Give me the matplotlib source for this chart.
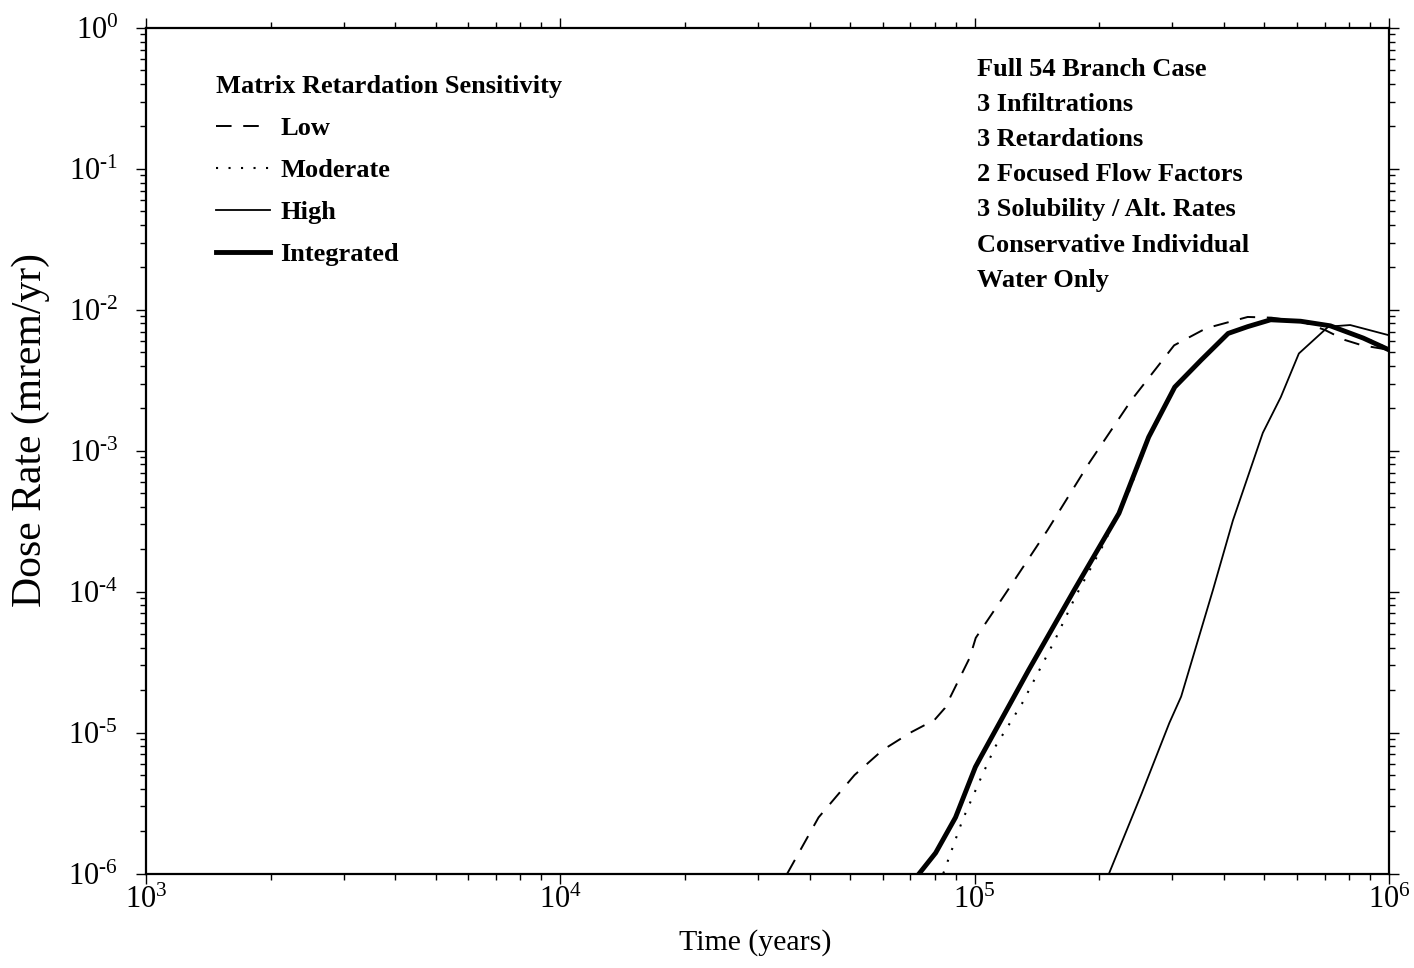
import math
import matplotlib
matplotlib.use("Agg")
import matplotlib.pyplot as plt
from matplotlib.ticker import LogLocator, FixedLocator, FuncFormatter, NullFormatter

plt.rcParams['font.family'] = ['Liberation Serif', 'DejaVu Serif']
plt.rcParams['mathtext.fontset'] = 'custom'
plt.rcParams['mathtext.rm'] = 'Liberation Serif'
plt.rcParams['mathtext.it'] = 'Liberation Serif:italic'
plt.rcParams['mathtext.bf'] = 'Liberation Serif:bold'

# ---- data ----
low_t = [35.3e3, 42e3, 51.3e3, 59.9e3, 70e3, 80e3, 84.7e3, 97.3e3, 100.6e3, 119e3,
         150e3, 189e3, 239e3, 303e3, 362e3, 456e3, 520e3, 620e3, 700e3, 784e3, 861e3, 1e6]
low_d = [1e-6, 2.5e-6, 5.0e-6, 7.5e-6, 1.0e-5, 1.23e-5, 1.49e-5, 3.4e-5, 4.7e-5, 9.8e-5,
         2.74e-4, 8.2e-4, 2.29e-3, 5.6e-3, 7.4e-3, 8.9e-3, 8.8e-3, 8.2e-3, 7.2e-3, 6.1e-3, 5.6e-3, 5.2e-3]

mod_t = [84e3, 93.5e3, 103e3, 112e3, 130e3, 156e3, 175e3, 203e3, 235e3,
         263e3, 304e3, 352e3, 409e3, 456e3, 518e3, 612e3, 722e3, 867e3, 1e6]
mod_d = [1e-6, 2.4e-6, 4.6e-6, 7.9e-6, 1.6e-5, 4.5e-5, 9.2e-5, 2.07e-4, 5.0e-4,
         1.22e-3, 2.8e-3, 4.4e-3, 6.8e-3, 7.6e-3, 8.5e-3, 8.3e-3, 7.7e-3, 6.4e-3, 5.3e-3]

high_t = [211e3, 253e3, 295e3, 315e3, 376e3, 420e3, 496e3, 548e3, 606e3, 714e3, 806e3, 1e6]
high_d = [1e-6, 3.7e-6, 1.17e-5, 1.8e-5, 1.03e-4, 3.2e-4, 1.34e-3, 2.4e-3, 4.9e-3, 7.6e-3, 7.8e-3, 6.6e-3]

int_t = [73.5e3, 80.5e3, 89.9e3, 100.4e3, 104e3, 135e3, 174e3, 223e3, 263e3, 304e3,
         352e3, 409e3, 456e3, 518e3, 612e3, 722e3, 867e3, 1e6]
int_d = [1e-6, 1.4e-6, 2.5e-6, 5.7e-6, 6.9e-6, 2.78e-5, 1.03e-4, 3.6e-4, 1.25e-3, 2.83e-3,
         4.4e-3, 6.8e-3, 7.6e-3, 8.5e-3, 8.3e-3, 7.7e-3, 6.3e-3, 5.2e-3]

x_major = [1e3, 1e4, 1e5, 1e6]
y_major = [1e-6, 1e-5, 1e-4, 1e-3, 1e-2, 1e-1, 1e0]

legend_title = "Matrix Retardation Sensitivity"
series_labels = ["Low", "Moderate", "High", "Integrated"]
info_lines = ["Full 54 Branch Case", "3 Infiltrations", "3 Retardations",
              "2 Focused Flow Factors", "3 Solubility / Alt. Rates",
              "Conservative Individual", "Water Only"]

W, H = 1414, 968
fig = plt.figure(figsize=(W / 100, H / 100), dpi=100)
ax = fig.add_axes([146 / W, 1 - 873.5 / H, (1389 - 146) / W, (873.5 - 28) / H])

l1, = ax.plot(low_t, low_d, color='black', lw=1.4, linestyle=(0, (8, 6)), label=series_labels[0])
l2, = ax.plot(mod_t, mod_d, color='black', lw=1.5, linestyle=(0, (1, 5)), label=series_labels[1])
l3, = ax.plot(high_t, high_d, color='black', lw=1.3, linestyle='-', label=series_labels[2])
l4, = ax.plot(int_t, int_d, color='black', lw=3.5, linestyle='-', label=series_labels[3])

ax.set_xscale('log')
ax.set_yscale('log')
ax.set_xlim(x_major[0], x_major[-1])
ax.set_ylim(y_major[0], y_major[-1])


def pow_label(v, pos):
    e = int(round(math.log10(v)))
    s = str(abs(e))
    if e < 0:
        s = '\u2010' + s
    return r'$\mathregular{10^{%s}}$' % s


for axis, majors in ((ax.xaxis, x_major), (ax.yaxis, y_major)):
    axis.set_major_locator(FixedLocator(majors))
    axis.set_minor_locator(LogLocator(base=10, subs=range(2, 10), numticks=100))
    axis.set_major_formatter(FuncFormatter(pow_label))
    axis.set_minor_formatter(NullFormatter())

ax.tick_params(which='both', direction='out', top=True, right=True, width=1.0, labelsize=22)
ax.tick_params(which='major', length=7)
ax.tick_params(which='minor', length=4)
ax.tick_params(axis='x', which='major', pad=2)
ax.tick_params(axis='y', which='major', pad=13)
for s in ax.spines.values():
    s.set_linewidth(1.6)

ax.set_xlabel("Time (years)", fontsize=21.5)
ax.xaxis.set_label_coords(0.490, -0.066)
ax.set_ylabel("Dose Rate (mrem/yr)", fontsize=30)
ax.yaxis.set_label_coords(-0.077, 0.5245)

leg = ax.legend(handles=[l1, l2, l3, l4], title=legend_title, loc='upper left',
                bbox_to_anchor=(216 / W, 1 - 75 / H), bbox_transform=fig.transFigure,
                frameon=False, fontsize=19, title_fontsize=19, alignment='left',
                handlelength=2.05, handletextpad=0.38, labelspacing=0.70,
                borderpad=0, borderaxespad=0)
leg.get_title().set_fontweight('bold')
for t in leg.get_texts():
    t.set_fontweight('bold')

for i, line in enumerate(info_lines):
    fig.text(977 / W, 1 - (76 + 35.1 * i) / H, line, fontsize=19, fontweight='bold',
             ha='left', va='baseline')

fig.savefig("out.png", dpi=100)
